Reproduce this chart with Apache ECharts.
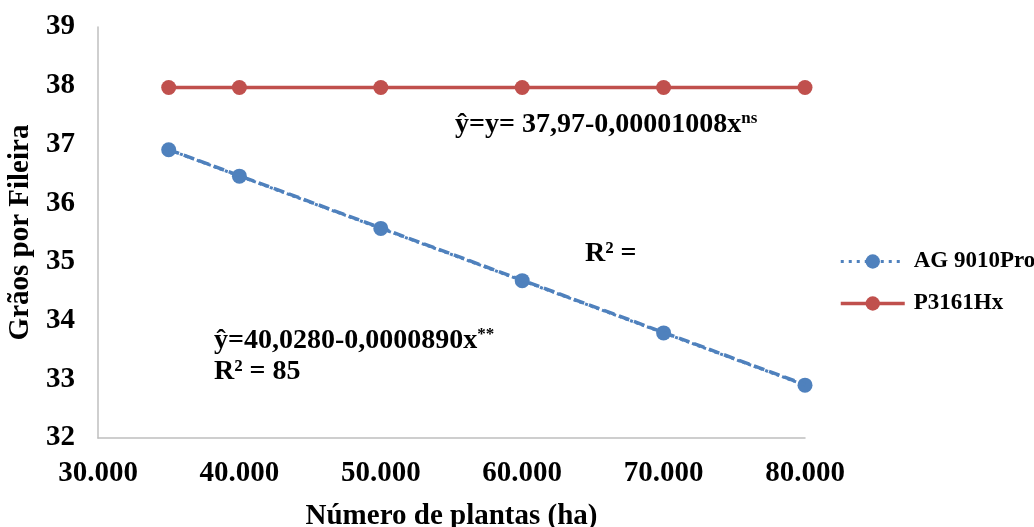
<!DOCTYPE html>
<html>
<head>
<meta charset="utf-8">
<script src="https://cdn.jsdelivr.net/npm/echarts@6/dist/echarts.min.js"></script>
<style>
  html, body { margin: 0; padding: 0; background: #fff; }
  #chart { width: 1034px; height: 527px; }
</style>
</head>
<body>
<div id="chart"></div>
<script>
// Plant density (plants per ha)
const plantas = [35000, 40000, 50000, 60000, 70000, 80000];
// Grains per row for each hybrid
const ag9010Pro = [36.91, 36.46, 35.57, 34.68, 33.79, 32.90];
const p3161Hx = [37.97, 37.97, 37.97, 37.97, 37.97, 37.97];
// Fitted linear trend for AG 9010Pro, at the first and last density
const trendX = [35000, 80000];
const trendAG = [36.913, 32.908];

const serif = '"Liberation Serif", "Times New Roman", serif';
const blue = '#4F81BD';
const red = '#C0504D';

const fmtThousands = v => String(v).replace(/\B(?=(\d{3})+(?!\d))/g, '.');

const chart = echarts.init(document.getElementById('chart'));

const supRich = {
  m: { fontFamily: serif, fontWeight: 'bold', fontSize: 28, fill: '#000' },
  s: { fontFamily: serif, fontWeight: 'bold', fontSize: 17, fill: '#000', verticalAlign: 'top', padding: [0, 0, 12, 0] }
};

chart.setOption({
  animation: false,
  backgroundColor: '#fff',
  textStyle: { fontFamily: serif },
  grid: { left: 98, right: 229, top: 27, bottom: 89, containLabel: false, outerBoundsMode: 'none' },
  xAxis: {
    type: 'value',
    min: 30000, max: 80000, interval: 10000,
    name: 'Número de plantas (ha)',
    nameLocation: 'middle',
    nameGap: 64,
    nameTextStyle: { fontFamily: serif, fontWeight: 'bold', fontSize: 29, color: '#000' },
    axisLine: { lineStyle: { color: '#bfbfbf', width: 1.5 } },
    axisTick: { show: false },
    splitLine: { show: false },
    axisLabel: {
      formatter: fmtThousands,
      fontFamily: serif, fontWeight: 'bold', fontSize: 29, color: '#000', margin: 21
    }
  },
  yAxis: {
    type: 'value',
    min: 32, max: 39, interval: 1,
    name: 'Grãos por Fileira',
    nameLocation: 'middle',
    nameGap: 62,
    nameTextStyle: { fontFamily: serif, fontWeight: 'bold', fontSize: 29, color: '#000' },
    axisLine: { show: true, lineStyle: { color: '#bfbfbf', width: 1.5 } },
    axisTick: { show: false },
    splitLine: { show: false },
    axisLabel: { fontFamily: serif, fontWeight: 'bold', fontSize: 29, color: '#000', margin: 23 }
  },
  legend: {
    orient: 'vertical',
    left: 834, top: 245,
    itemWidth: 64, itemHeight: 18, itemGap: 19,
    textStyle: { fontFamily: serif, fontWeight: 'bold', fontSize: 23, color: '#000', padding: [0, 0, 0, 4] },
    data: [
      { name: 'AG 9010Pro', lineStyle: { width: 3, type: [3, 5] } },
      { name: 'P3161Hx', lineStyle: { width: 3.5 } }
    ]
  },
  series: [
    {
      name: 'AG 9010Pro',
      type: 'line',
      data: plantas.map((x, i) => [x, ag9010Pro[i]]),
      symbol: 'circle', symbolSize: 15,
      itemStyle: { color: blue },
      lineStyle: { color: blue, width: 3, type: 'dotted' },
      z: 3
    },
    {
      name: 'Tendência AG 9010Pro',
      type: 'line',
      data: trendX.map((x, i) => [x, trendAG[i]]),
      symbol: 'none',
      lineStyle: { color: blue, width: 3.5, type: [11, 5] },
      z: 4,
      silent: true
    },
    {
      name: 'P3161Hx',
      type: 'line',
      data: plantas.map((x, i) => [x, p3161Hx[i]]),
      symbol: 'circle', symbolSize: 15,
      itemStyle: { color: red },
      lineStyle: { color: red, width: 3.5 },
      z: 3
    }
  ],
  graphic: [
    {
      type: 'text', left: 455, top: 110,
      style: { text: '{m|ŷ=y= 37,97-0,00001008x}{s|ns}', rich: supRich }
    },
    {
      type: 'text', left: 585, top: 240,
      style: { text: 'R² =', fontFamily: serif, fontWeight: 'bold', fontSize: 28, fill: '#000' }
    },
    {
      type: 'text', left: 214, top: 326,
      style: { text: '{m|ŷ=40,0280-0,0000890x}{s|**}', rich: supRich }
    },
    {
      type: 'text', left: 214, top: 358,
      style: { text: 'R² = 85', fontFamily: serif, fontWeight: 'bold', fontSize: 28, fill: '#000' }
    }
  ]
});
</script>
</body>
</html>
